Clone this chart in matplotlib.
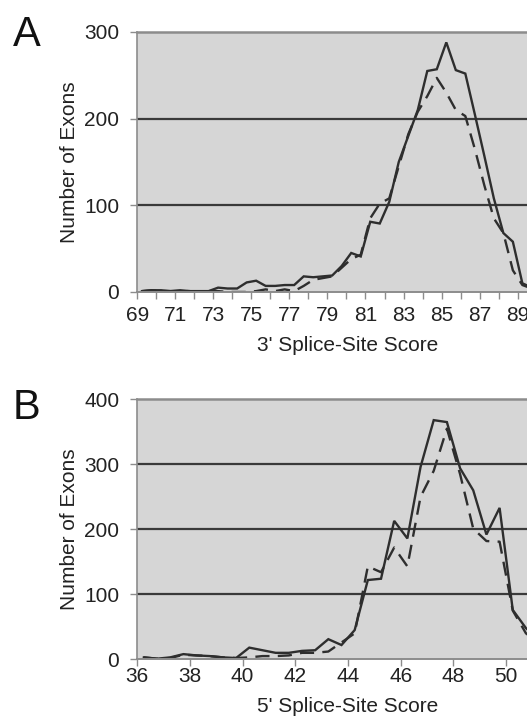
import numpy as np
import matplotlib
matplotlib.use('Agg')
import matplotlib.pyplot as plt
from matplotlib.ticker import MultipleLocator

# --- data: exon counts per splice-site score bin (0.5 wide bins) ---
score_3ss = np.arange(69.25, 90.0, 0.5)
exons_3ss_solid = [1, 2, 2, 1, 2, 1, 1, 1, 5, 4, 4, 11, 13, 7, 7, 8, 8, 18, 17, 18,
                   19, 30, 45, 41, 81, 79, 104, 150, 180, 210, 255, 257, 288, 256,
                   252, 205, 157, 108, 68, 58, 10, 5]
exons_3ss_dashed = [1, 2, 1, 1, 1, 1, 0, 1, 1, 0, 0, 0, 1, 3, 1, 3, 1, 7, 14, 16,
                    18, 28, 38, 43, 85, 102, 108, 145, 182, 208, 226, 247, 230, 210,
                    203, 165, 123, 85, 68, 25, 8, 4]

score_5ss = np.arange(36.25, 51.5, 0.5)
exons_5ss_solid = [3, 1, 3, 8, 6, 5, 3, 2, 18, 14, 10, 10, 13, 14, 31, 22, 45, 122,
                   124, 213, 186, 296, 368, 365, 294, 260, 192, 233, 76, 48, 30]
exons_5ss_dashed = [3, 1, 2, 7, 6, 5, 3, 2, 3, 5, 5, 6, 10, 10, 12, 26, 40, 143,
                    134, 172, 143, 250, 290, 355, 285, 201, 182, 181, 75, 40, 25]

xticks_3ss = [69, 71, 73, 75, 77, 79, 81, 83, 85, 87, 89, 91]
xticks_5ss = [36, 38, 40, 42, 44, 46, 48, 50, 52]
yticks_3ss = [0, 100, 200, 300]
yticks_5ss = [0, 100, 200, 300, 400]

plt.rcParams['font.family'] = ['Liberation Sans', 'DejaVu Sans']

LINE = '#2e2e2e'
FACE = '#d6d6d6'
SPINE = '#8c8c8c'
GRID = '#3a3a3a'


def style_panel(ax, xs, y1, y2, xticks, yticks, xlim, xlabel, minor, xpad):
    ax.set_facecolor(FACE)
    ax.plot(xs, y1, color=LINE, lw=1.7, solid_joinstyle='miter')
    ax.plot(xs, y2, color=LINE, lw=1.7, dashes=(6, 3.5))

    # interior gridlines only; bottom/top are drawn by the spines
    for v in yticks[1:-1]:
        ax.axhline(v, color=GRID, lw=1.6, zorder=1)

    ax.set_xlim(*xlim)
    ax.set_ylim(yticks[0], yticks[-1])
    ax.set_xticks(xticks)
    ax.set_yticks(yticks)
    if minor:
        ax.xaxis.set_minor_locator(MultipleLocator(minor))

    for side in ['right']:
        ax.spines[side].set_visible(False)
    ax.spines['top'].set_color(SPINE)
    ax.spines['top'].set_linewidth(1.8)
    ax.spines['left'].set_color(SPINE)
    ax.spines['bottom'].set_color(SPINE)
    ax.spines['left'].set_linewidth(1.2)
    ax.spines['bottom'].set_linewidth(1.4)

    ax.tick_params(axis='x', which='both', direction='out', length=5, width=1,
                   color=SPINE, labelsize=15, pad=xpad, labelcolor='#222222')
    ax.tick_params(axis='y', direction='out', length=5, width=1, color=SPINE,
                   labelsize=15, pad=8, labelcolor='#222222')
    ax.set_xlabel(xlabel, fontsize=15, color='#222222', labelpad=8)
    ax.set_ylabel('Number of Exons', fontsize=15, color='#222222', labelpad=4)


fig = plt.figure(figsize=(5.27, 7.22), dpi=100)

# axes extend past the right edge of the figure, as in the cropped original
ax_a = fig.add_axes([0.2605, 0.5956, 0.80, 0.3601])
style_panel(ax_a, score_3ss, exons_3ss_solid, exons_3ss_dashed,
            xticks_3ss, yticks_3ss, (69, 91.17), "3' Splice-Site Score", 1, 5)

ax_b = fig.add_axes([0.2605, 0.0868, 0.80, 0.3601])
style_panel(ax_b, score_5ss, exons_5ss_solid, exons_5ss_dashed,
            xticks_5ss, yticks_5ss, (36, 51.76), "5' Splice-Site Score", None, 0.5)

fig.text(0.0247, 0.979, 'A', fontsize=30, va='top', ha='left', color='#111111')
fig.text(0.0247, 0.4626, 'B', fontsize=30, va='top', ha='left', color='#111111')

fig.savefig('out.png', dpi=100)
